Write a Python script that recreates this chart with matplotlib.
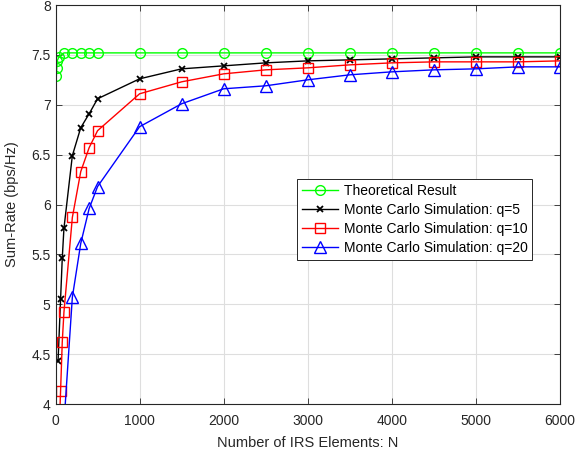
import matplotlib
matplotlib.use("Agg")
import matplotlib.pyplot as plt
from matplotlib.ticker import FormatStrFormatter, MultipleLocator

# Number of IRS elements
n_theory = [10, 15, 20, 40, 100, 200, 300, 400, 500, 1000, 1500, 2000, 2500,
            3000, 3500, 4000, 4500, 5000, 5500, 6000]
n_sim = [30, 60, 80, 100, 200, 300, 400, 500, 1000, 1500, 2000, 2500,
         3000, 3500, 4000, 4500, 5000, 5500, 6000]

# Sum-rate (bps/Hz)
rate_theory = [7.29, 7.37, 7.44, 7.48, 7.52, 7.52, 7.52, 7.52, 7.52, 7.52,
               7.52, 7.52, 7.52, 7.52, 7.52, 7.52, 7.52, 7.52, 7.52, 7.52]
rate_q5 = [4.43, 5.05, 5.46, 5.76, 6.49, 6.77, 6.91, 7.06, 7.26, 7.36, 7.39,
           7.42, 7.44, 7.45, 7.46, 7.47, 7.48, 7.48, 7.48]
rate_q10 = [3.40, 4.13, 4.62, 4.92, 5.87, 6.33, 6.57, 6.74, 7.11, 7.23, 7.31,
            7.35, 7.37, 7.40, 7.42, 7.43, 7.43, 7.43, 7.44]
rate_q20 = [2.50, 3.20, 3.50, 3.80, 5.07, 5.61, 5.96, 6.18, 6.78, 7.01, 7.16,
            7.19, 7.25, 7.30, 7.33, 7.35, 7.36, 7.38, 7.38]

labels = ["Theoretical Result",
          "Monte Carlo Simulation: q=5",
          "Monte Carlo Simulation: q=10",
          "Monte Carlo Simulation: q=20"]

plt.rcParams["font.family"] = ["Liberation Sans", "DejaVu Sans"]

fig = plt.figure(figsize=(5.76, 4.59), dpi=100)
ax = fig.add_axes([0.0964, 0.1198, 0.8758, 0.8693])

ax.plot(n_theory, rate_theory, color="#00ff00", marker="o", markersize=7,
        markerfacecolor="none", linewidth=1, label=labels[0])
ax.plot(n_sim, rate_q5, color="black", marker="x", markersize=5,
        markeredgewidth=1.3, linewidth=1, label=labels[1])
ax.plot(n_sim, rate_q10, color="red", marker="s", markersize=7,
        markerfacecolor="none", linewidth=1, label=labels[2])
ax.plot(n_sim, rate_q20, color="blue", marker="^", markersize=8,
        markerfacecolor="none", linewidth=1, label=labels[3])

ax.set_xlim(0, 6000)
ax.set_ylim(4, 8)
ax.xaxis.set_major_locator(MultipleLocator(1000))
ax.yaxis.set_major_locator(MultipleLocator(0.5))
ax.yaxis.set_major_formatter(FormatStrFormatter("%g"))

ax.grid(True, color="#dedede", linewidth=0.8)
ax.set_axisbelow(True)
for side in ax.spines.values():
    side.set_color("#262626")
    side.set_linewidth(0.8)
ax.tick_params(direction="in", length=4, width=0.6, colors="#262626",
               labelsize=10, top=True, right=True, labeltop=False,
               labelright=False)
ax.tick_params(axis="x", pad=7)

ax.set_xlabel("Number of IRS Elements: N", fontsize=10.5, color="#262626",
              labelpad=6)
ax.set_ylabel("Sum-Rate (bps/Hz)", fontsize=10.5, color="#262626",
              labelpad=9)

leg = ax.legend(loc="upper left", bbox_to_anchor=(0.479, 0.563),
                fontsize=10, frameon=True, fancybox=False, framealpha=1,
                edgecolor="#262626", handlelength=2.6, borderpad=0.35,
                labelspacing=0.35, handletextpad=0.4, borderaxespad=0)
leg.get_frame().set_linewidth(0.7)

fig.savefig("out.png", dpi=100)
